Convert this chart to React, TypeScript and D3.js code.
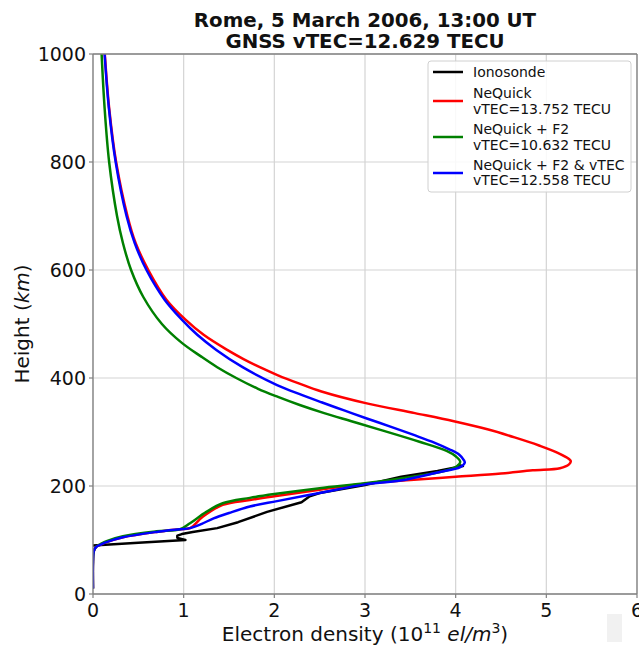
import React from "react";
import * as d3 from "d3";

const titleLines = ["Rome, 5 March 2006, 13:00 UT", "GNSS vTEC=12.629 TECU"];
const xTicks = [0, 1, 2, 3, 4, 5, 6];
const yTicks = [0, 200, 400, 600, 800, 1000];

// [electron density (1e11 el/m3), height km]
const ionosonde: [number, number][] = [
  [0, 90], [0.5, 95], [1.02, 100], [0.93, 104], [0.93, 108], [0.98, 111], [1.1, 115],
  [1.37, 122], [1.6, 133], [1.92, 152], [2.3, 170], [2.39, 181], [2.5, 187], [3.0, 202],
  [3.4, 217], [3.8, 228], [4.08, 237], [4.02, 239],
];
const nequick: [number, number][] = [
  [0, 10], [0, 60], [0.01, 80], [0.04, 88], [0.08, 91], [0.15, 96], [0.33, 105], [0.7, 115],
  [0.96, 120], [1.07, 122], [1.21, 143], [1.43, 165], [1.73, 174], [2.0, 181], [2.5, 193],
  [3.0, 204], [3.5, 211], [4.0, 217], [4.5, 223], [4.85, 229], [5.15, 233], [5.25, 240],
  [5.27, 246], [5.25, 250], [5.12, 262], [4.92, 275], [4.65, 290], [4.35, 305], [3.98, 320],
  [3.55, 335], [3.02, 353], [2.52, 375], [2.27, 390], [2.04, 405], [1.84, 420], [1.66, 435],
  [1.48, 452], [1.22, 480], [1.02, 508], [0.81, 545], [0.61, 600], [0.47, 650], [0.38, 700],
  [0.255, 800], [0.178, 900], [0.13, 1000],
];
const nequickF2: [number, number][] = [
  [0, 10], [0, 60], [0.01, 80], [0.04, 88], [0.08, 92], [0.15, 98], [0.33, 107], [0.7, 116],
  [0.96, 120], [1.07, 131], [1.25, 152], [1.43, 168], [1.73, 178], [2.0, 185], [2.5, 196],
  [3.0, 205], [3.39, 214], [3.8, 225], [4.0, 235], [4.05, 245], [4.0, 255], [3.9, 265],
  [3.6, 282], [3.17, 304], [2.85, 320], [2.55, 335], [2.28, 350], [2.04, 365], [1.82, 380],
  [1.58, 400], [1.37, 420], [1.19, 440], [0.98, 465], [0.76, 500], [0.555, 550], [0.42, 600],
  [0.33, 650], [0.265, 700], [0.178, 800], [0.128, 900], [0.095, 1000],
];
const nequickF2vTEC: [number, number][] = [
  [0, 10], [0, 60], [0.01, 80], [0.04, 88], [0.08, 91], [0.15, 96], [0.33, 105], [0.7, 115],
  [0.96, 120], [1.07, 122], [1.2, 130], [1.33, 140], [1.5, 150], [1.73, 162], [2.03, 172],
  [2.5, 187], [3.0, 203], [3.39, 210], [3.8, 225], [4.05, 235], [4.1, 243], [4.09, 248],
  [4.04, 258], [3.93, 268], [3.77, 280], [3.53, 295], [3.28, 310], [3.02, 325], [2.77, 340],
  [2.52, 355], [2.28, 370], [2.03, 387], [1.65, 420], [1.36, 452], [1.15, 480], [0.98, 508],
  [0.79, 545], [0.59, 600], [0.46, 650], [0.37, 700], [0.25, 800], [0.175, 900], [0.128, 1000],
];

const seriesNames = ["Ionosonde", "NeQuick", "NeQuick + F2", "NeQuick + F2 & vTEC"];
const seriesSub = ["", "vTEC=13.752 TECU", "vTEC=10.632 TECU", "vTEC=12.558 TECU"];
const seriesColors = ["#000000", "#ff0000", "#008000", "#0000ff"];

const W = 639, H = 645;
const L = 93, R = 637, T = 54, B = 594;
const FONT = "DejaVu Sans, sans-serif";

export default function App() {
  const x = d3.scaleLinear().domain([0, 6]).range([L, R]);
  const y = d3.scaleLinear().domain([0, 1000]).range([B, T]);
  const lineLin = d3.line<[number, number]>().x(d => x(d[0])).y(d => y(d[1]));
  const lineSmooth = d3
    .line<[number, number]>()
    .x(d => x(d[0]))
    .y(d => y(d[1]))
    .curve(d3.curveCatmullRom.alpha(0.5));

  const legendRows = [
    { ly: 72, texts: [[seriesNames[0], 72]] },
    { ly: 101, texts: [[seriesNames[1], 93], [seriesSub[1], 109]] },
    { ly: 137, texts: [[seriesNames[2], 129], [seriesSub[2], 145]] },
    { ly: 173, texts: [[seriesNames[3], 165], [seriesSub[3], 180]] },
  ];

  return (
    <svg width={W} height={H} style={{ position: "absolute", left: 0, top: 0, background: "#fff" }}>
      <defs>
        <clipPath id="plotclip">
          <rect x={L} y={T} width={R - L} height={B - T} />
        </clipPath>
      </defs>
      <rect x={0} y={0} width={W} height={H} fill="#fff" />
      {/* grid */}
      {xTicks.map(t => (
        <line key={"gx" + t} x1={x(t)} x2={x(t)} y1={T} y2={B} stroke="#d4d4d4" strokeWidth={1.2} />
      ))}
      {yTicks.map(t => (
        <line key={"gy" + t} x1={L} x2={R} y1={y(t)} y2={y(t)} stroke="#d4d4d4" strokeWidth={1.2} />
      ))}
      {/* curves */}
      <g clipPath="url(#plotclip)" fill="none" strokeWidth={2.5} strokeLinejoin="round">
        <path d={lineLin(ionosonde) || ""} stroke={seriesColors[0]} />
        <path d={lineSmooth(nequick) || ""} stroke={seriesColors[1]} />
        <path d={lineSmooth(nequickF2) || ""} stroke={seriesColors[2]} />
        <path d={lineSmooth(nequickF2vTEC) || ""} stroke={seriesColors[3]} />
      </g>
      {/* spines */}
      <line x1={L} x2={L} y1={T} y2={B} stroke="#808080" strokeWidth={1.3} />
      <line x1={L} x2={R} y1={B} y2={B} stroke="#808080" strokeWidth={1.3} />
      <line x1={L} x2={R} y1={T} y2={T} stroke="#808080" strokeWidth={1.3} />
      <line x1={R} x2={R} y1={T} y2={B} stroke="#808080" strokeWidth={1.3} />
      {/* ticks */}
      {xTicks.map(t => (
        <g key={"tx" + t}>
          <line x1={x(t)} x2={x(t)} y1={B} y2={B + 4} stroke="#808080" strokeWidth={1.2} />
          <text x={x(t)} y={B + 23} textAnchor="middle" fontFamily={FONT} fontSize={19} fill="#111">
            {t}
          </text>
        </g>
      ))}
      {yTicks.map(t => (
        <g key={"ty" + t}>
          <line x1={L - 4} x2={L} y1={y(t)} y2={y(t)} stroke="#808080" strokeWidth={1.2} />
          <text x={L - 7} y={y(t) + 7} textAnchor="end" fontFamily={FONT} fontSize={19} fill="#111">
            {t}
          </text>
        </g>
      ))}
      {/* axis labels */}
      <text x={(L + R) / 2} y={641} textAnchor="middle" fontFamily={FONT} fontSize={20} fill="#111">
        Electron density (10
        <tspan dy={-8} fontSize={14}>11</tspan>
        <tspan dy={8}> </tspan>
        <tspan fontStyle="italic">el/m</tspan>
        <tspan dy={-8} fontSize={14}>3</tspan>
        <tspan dy={8}>)</tspan>
      </text>
      <text
        transform={`translate(29, ${(T + B) / 2}) rotate(-90)`}
        textAnchor="middle"
        fontFamily={FONT}
        fontSize={20}
        fill="#111"
      >
        Height (<tspan fontStyle="italic">km</tspan>)
      </text>
      {/* title */}
      <text x={(L + R) / 2} y={27} textAnchor="middle" fontFamily={FONT} fontSize={19.8} fontWeight="bold" fill="#111">
        {titleLines[0]}
      </text>
      <text x={(L + R) / 2} y={48} textAnchor="middle" fontFamily={FONT} fontSize={19.8} fontWeight="bold" fill="#111">
        {titleLines[1]}
      </text>
      {/* legend */}
      <rect x={428} y={61} width={203} height={131} rx={3} fill="#fff" fillOpacity={0.85} stroke="#d0d0d0" strokeWidth={1} />
      {legendRows.map((r, i) => (
        <g key={"lg" + i}>
          <line x1={433} x2={463} y1={r.ly} y2={r.ly} stroke={seriesColors[i]} strokeWidth={2.5} />
          {r.texts.map(([s, ty], j) => (
            <text key={j} x={473} y={(ty as number) + 5} fontFamily={FONT} fontSize={14} fill="#111">
              {s}
            </text>
          ))}
        </g>
      ))}
      {/* faint artifact box */}
      <rect x={607} y={614} width={15} height={28} fill="#f1f1f1" />
    </svg>
  );
}
